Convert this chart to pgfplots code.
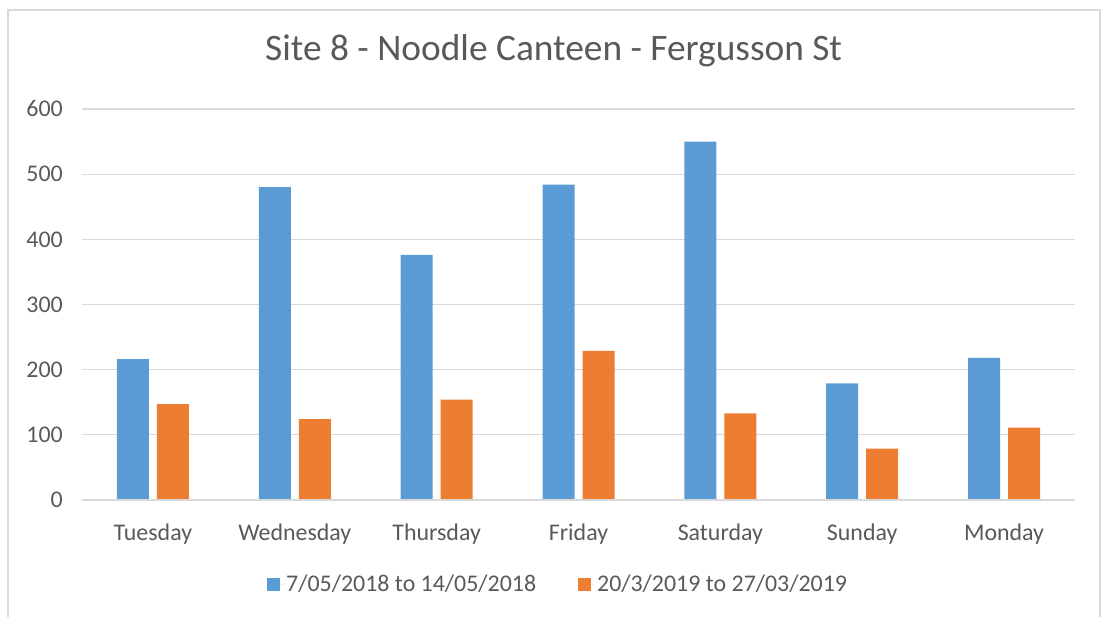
\documentclass[border=0pt]{standalone}
\usepackage{pgfplots}
\pgfplotsset{compat=1.18}
\usepackage{fontspec}
\setmainfont{Carlito}
\definecolor{sblue}{HTML}{5B9BD5}
\definecolor{sorange}{HTML}{ED7D31}
\definecolor{gridc}{HTML}{D9D9D9}
\definecolor{txt}{HTML}{595959}
\begin{document}
\begin{tikzpicture}
\useasboundingbox (0,0) rectangle (1103bp,617bp);
\draw[gridc, line width=1.2bp] (8bp,0) -- (8bp,607bp) -- (1100bp,607bp) -- (1100bp,0);
\begin{axis}[
  at={(82bp,117bp)}, anchor=south west,
  scale only axis, width=993bp, height=391bp,
  ybar=8bp, bar width=32bp,
  xmin=-0.5, xmax=6.5, ymin=0, ymax=600,
  xtick=data,
  xticklabels={Tuesday,Wednesday,Thursday,Friday,Saturday,Sunday,Monday},
  ytick={0,100,...,600},
  major tick length=0pt,
  axis line style={draw=none},
  ymajorgrids, grid style={gridc, line width=1.3bp},
  tick label style={font=\fontsize{24}{28}\selectfont, text=txt},
  /pgf/number format/assume math mode=true,
  yticklabel style={anchor=east, inner sep=0pt, xshift=-19bp},
  xticklabel style={anchor=base, inner sep=0pt, yshift=-40bp},
  title={Site 8 - Noodle Canteen - Fergusson St},
  title style={at={(0.475,1.110)}, anchor=base, inner sep=0pt, font=\fontsize{37.5}{42}\selectfont, text=txt},
  legend columns=2,
  legend style={at={(0.4795,-0.215)}, anchor=center, draw=none, fill=none,
    font=\fontsize{24}{28}\selectfont, text=txt,
    /tikz/every even column/.append style={column sep=40bp}},
  legend image code/.code={\fill[#1] (0bp,-6.5bp) rectangle (13bp,6.5bp); \path (0bp,0bp) -- (17bp,0bp);},
  clip=false,
]
\addplot[fill=sblue, draw=none] coordinates {(0,216) (1,480) (2,376) (3,484) (4,550) (5,179) (6,218)};
\addplot[fill=sorange, draw=none] coordinates {(0,147) (1,124) (2,154) (3,229) (4,133) (5,79) (6,111)};
\draw[gridc, line width=1.6bp] (axis cs:-0.5,0) -- (axis cs:6.5,0);
\legend{7/05/2018 to 14/05/2018, 20/3/2019 to 27/03/2019}
\end{axis}
\end{tikzpicture}
\end{document}
